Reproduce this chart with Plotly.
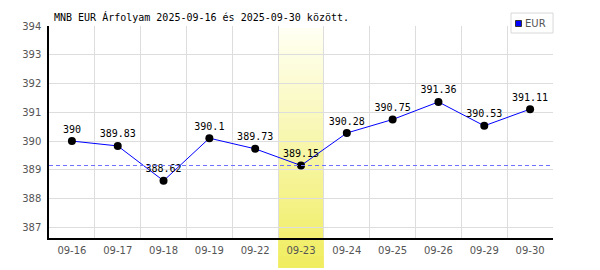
import plotly.graph_objects as go

dates = ["09-16", "09-17", "09-18", "09-19", "09-22", "09-23",
         "09-24", "09-25", "09-26", "09-29", "09-30"]
eur = [390.0, 389.83, 388.62, 390.1, 389.73, 389.15,
       390.28, 390.75, 391.36, 390.53, 391.11]
highlight = "09-23"
series_name = "EUR"
title_text = "MNB EUR Árfolyam 2025-09-16 és 2025-09-30 között."
y_ticks = [387, 388, 389, 390, 391, 392, 393, 394]

W, H = 600, 270
ML, MR, MT, MB = 49, 47, 26, 32
PW, PH = W - ML - MR, H - MT - MB


def px_x(px):
    return (px - ML) / PW


def px_y(py):
    return (H - MB - py) / PH


hi = dates.index(highlight)

fig = go.Figure()

fig.add_trace(go.Scatter(
    x=dates, y=eur, mode="lines+markers+text",
    line=dict(color="#0000ff", width=1),
    marker=dict(color="black", size=8),
    text=[f"{v:g}" for v in eur],
    textposition="top center",
    textfont=dict(family="DejaVu Sans Mono", size=10, color="black"),
    showlegend=False, cliponaxis=False,
))

shapes = []
# highlight band gradient
n = 40
top_py, bot_py = 28, 268
c0 = (255, 255, 242)
c1 = (240, 237, 96)
for i in range(n):
    t = i / (n - 1)
    col = tuple(round(c0[k] + (c1[k] - c0[k]) * t) for k in range(3))
    y0p = top_py + (bot_py - top_py) * i / n
    y1p = top_py + (bot_py - top_py) * (i + 1) / n
    shapes.append(dict(type="rect", xref="x", yref="paper",
                       x0=hi - 0.5, x1=hi + 0.5,
                       y0=px_y(y1p), y1=px_y(y0p),
                       fillcolor="rgb(%d,%d,%d)" % col, line=dict(width=0),
                       layer="below"))
# dashed reference line at highlighted value
shapes.append(dict(type="line", xref="paper", yref="y", x0=0, x1=1,
                   y0=eur[hi], y1=eur[hi],
                   line=dict(color="#7070ff", width=1, dash="4px,3px"),
                   layer="above"))
# legend box
shapes.append(dict(type="rect", xref="paper", yref="paper",
                   x0=px_x(511), x1=px_x(553), y0=px_y(33), y1=px_y(13),
                   fillcolor="white", line=dict(color="#d8d8d8", width=1)))
shapes.append(dict(type="rect", xref="paper", yref="paper",
                   x0=px_x(515.5), x1=px_x(521.5), y0=px_y(26.5), y1=px_y(20.5),
                   fillcolor="#0000ff", line=dict(color="#333333", width=1)))

annotations = [
    dict(text=title_text, xref="paper", yref="paper", x=px_x(52), y=px_y(17),
         xanchor="left", yanchor="middle", showarrow=False,
         font=dict(family="DejaVu Sans Mono", size=10, color="black")),
    dict(text=series_name, xref="paper", yref="paper", x=px_x(523), y=px_y(23.5),
         xanchor="left", yanchor="middle", showarrow=False,
         font=dict(family="DejaVu Sans", size=10, color="#555555")),
]

fig.update_layout(
    width=W, height=H,
    margin=dict(l=ML, r=MR, t=MT, b=MB, pad=0),
    paper_bgcolor="white", plot_bgcolor="rgba(0,0,0,0)",
    shapes=shapes, annotations=annotations,
    showlegend=False,
    xaxis=dict(type="category", range=[-0.5, len(dates) - 0.5],
               tickson="boundaries", showgrid=True, gridcolor="#dddddd",
               gridwidth=1, showline=True, linecolor="black", linewidth=1.5,
               ticks="", tickfont=dict(family="DejaVu Sans", size=10, color="#555555"),
               ticklabelstandoff=2,
               fixedrange=True, zeroline=False),
    yaxis=dict(range=[386.63, 394.0], tickvals=y_ticks, showgrid=True,
               gridcolor="#dddddd", gridwidth=1, showline=True,
               linecolor="black", linewidth=1.5, ticks="",
               ticklabelstandoff=4,
               tickfont=dict(family="DejaVu Sans", size=10, color="#555555"),
               zeroline=False, fixedrange=True),
)

fig.write_html("out.html")
